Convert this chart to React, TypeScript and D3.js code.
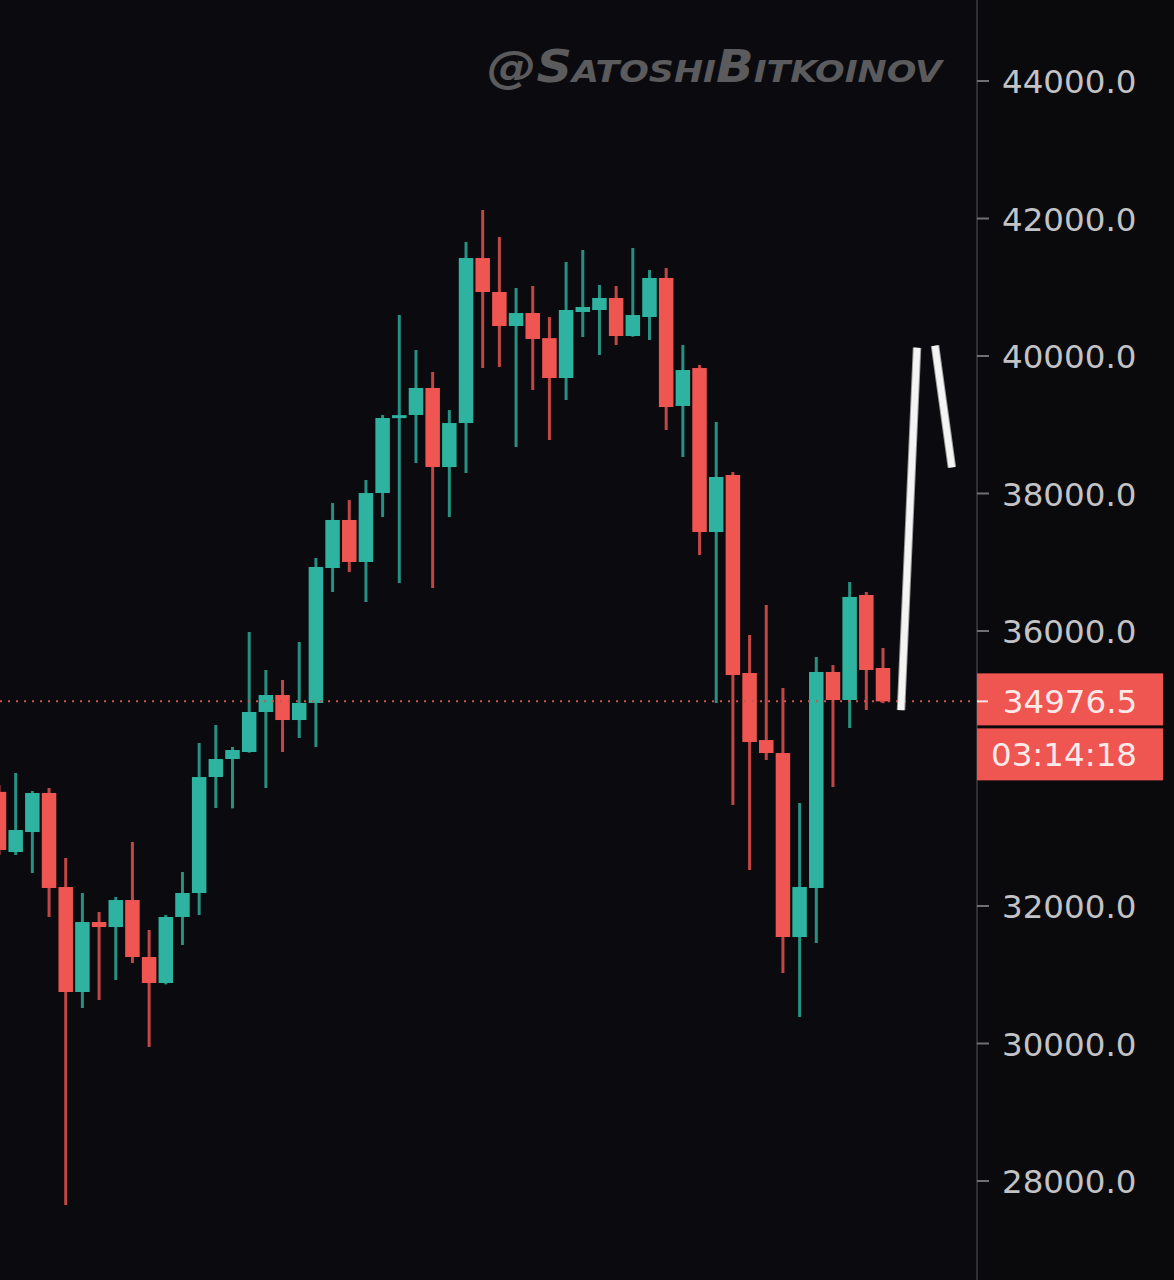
import React from "react";
import * as d3 from "d3";

const opens = [33660, 32785, 33076, 33644, 32276, 30749, 31767, 31694, 32087, 31258, 30880, 31840, 32189, 33876, 34138, 34240, 34822, 35069, 34705, 34953, 36916, 37615, 37004, 38007, 39098, 39142, 39535, 38385, 39025, 41425, 40931, 40436, 40625, 40260, 39680, 40640, 40669, 40844, 40291, 40567, 41135, 39273, 39825, 37440, 38269, 35389, 34414, 34225, 31549, 32262, 35404, 34996, 36524, 35462];
const highs = [33760, 33935, 33673, 33716, 32698, 32189, 31913, 32131, 32931, 31651, 31869, 32495, 34371, 34633, 34313, 35985, 35433, 35287, 35840, 37062, 37862, 37905, 38196, 39142, 40596, 40087, 39767, 39214, 41658, 42124, 41731, 40989, 41018, 40567, 41367, 41542, 41033, 41018, 41571, 41251, 41280, 40160, 39869, 39040, 38313, 35942, 36378, 35171, 33498, 35622, 35505, 36713, 36567, 35753];
const lows = [32742, 32742, 32480, 31840, 27651, 30516, 30633, 30924, 31171, 29949, 30860, 31433, 31869, 33425, 33420, 34230, 33716, 34240, 34444, 34313, 36567, 36858, 36422, 37658, 36698, 38444, 36625, 37658, 38298, 39825, 39840, 38676, 39505, 38778, 39360, 40276, 40015, 40160, 40280, 40233, 38924, 38531, 37105, 34953, 33469, 32524, 34124, 31025, 30385, 31462, 33731, 34589, 34851, 34950];
const closes = [32815, 33105, 33644, 32262, 30749, 31767, 31694, 32087, 31258, 30880, 31840, 32189, 33876, 34138, 34269, 34822, 35069, 34705, 34953, 36931, 37615, 37004, 38007, 39098, 39140, 39535, 38385, 39025, 41425, 40931, 40436, 40625, 40247, 39680, 40669, 40713, 40844, 40291, 40596, 41135, 39258, 39796, 37440, 38240, 35360, 34385, 34225, 31549, 32276, 35404, 34996, 36495, 35433, 34976.5];

const tickValues = [28000, 30000, 32000, 36000, 38000, 40000, 42000, 44000];
const lastPrice = 34976.5;
const countdown = "03:14:18";
const watermark = "@SatoshiBitkoinov";
const annotationA = [[54.08, 34850], [55.04, 40120]];
const annotationB = [[56.12, 40150], [57.13, 38380]];

const W = 1174;
const H = 1280;
const AXIS_X = 977;
const UP = "#2db39f";
const DOWN = "#ef5551";
const BG = "#0b0b0f";

export default function App() {
  const y = d3.scaleLinear().domain([28000, 44000]).range([1181, 81]);
  const x = d3.scaleLinear().domain([0, 53]).range([-1, 883]);
  const bodyW = 14.5;
  const line = d3.line<number[]>().x((d) => x(d[0])).y((d) => y(d[1]));
  const yP = y(lastPrice);

  return (
    <svg
      width={W}
      height={H}
      style={{ position: "absolute", left: 0, top: 0, display: "block" }}
      xmlns="http://www.w3.org/2000/svg"
    >
      <rect x={0} y={0} width={W} height={H} fill={BG} />
      {/* watermark */}
      <text
        x={487}
        y={82}
        fill="#5b5b5e"
        fontFamily="'DejaVu Sans', sans-serif"
        fontWeight="bold"
        fontStyle="italic"
        fontSize={44}
        style={{ fontVariant: "small-caps" }}
        textLength={455}
        lengthAdjust="spacingAndGlyphs"
      >
        {watermark}
      </text>

      {/* candles */}
      {opens.map((o, i) => {
        const c = closes[i];
        const up = c >= o;
        const col = up ? UP : DOWN;
        const cx = x(i);
        const top = y(Math.max(o, c));
        const bot = y(Math.min(o, c));
        return (
          <g key={i}>
            <line
              x1={cx}
              x2={cx}
              y1={y(highs[i])}
              y2={y(lows[i])}
              stroke={col}
              strokeWidth={3}
              strokeOpacity={0.8}
            />
            <rect
              x={cx - bodyW / 2}
              y={top}
              width={bodyW}
              height={Math.max(bot - top, 3)}
              fill={col}
            />
          </g>
        );
      })}

      {/* price line */}
      <line
        x1={0}
        x2={AXIS_X}
        y1={yP}
        y2={yP}
        stroke="#c9534f"
        strokeWidth={2}
        strokeDasharray="2,6"
      />

      {/* annotation strokes */}
      {[annotationA, annotationB].map((pts, i) => (
        <g key={i}>
          <path d={line(pts) || ""} stroke="#9a9a9a" strokeWidth={8.5} fill="none" />
          <path d={line(pts) || ""} stroke="#f4f4f4" strokeWidth={6.5} fill="none" />
        </g>
      ))}

      {/* axis */}
      <rect x={AXIS_X} y={0} width={W - AXIS_X} height={H} fill="#0a0a0d" />
      <line x1={AXIS_X} x2={AXIS_X} y1={0} y2={H} stroke="#2e2e33" strokeWidth={2} />
      {tickValues.map((t) => (
        <g key={t}>
          <line x1={AXIS_X} x2={AXIS_X + 12} y1={y(t)} y2={y(t)} stroke="#6f6f74" strokeWidth={2} />
          <text
            x={1002}
            y={y(t) + 12}
            fill="#c3c3c6"
            fontFamily="'DejaVu Sans', sans-serif"
            fontSize={32.5}
          >
            {d3.format(".1f")(t)}
          </text>
        </g>
      ))}

      {/* last price labels */}
      <rect x={AXIS_X} y={yP - 28} width={186} height={52} fill={DOWN} />
      <line x1={AXIS_X} x2={AXIS_X + 11} y1={yP} y2={yP} stroke="#fbe3e2" strokeWidth={2} />
      <text
        x={1070}
        y={yP + 12}
        textAnchor="middle"
        fill="#fde9e8"
        fontFamily="'DejaVu Sans', sans-serif"
        fontSize={32.5}
      >
        {d3.format(".1f")(lastPrice)}
      </text>
      <rect x={AXIS_X} y={yP + 27} width={186} height={52} fill={DOWN} />
      <text
        x={1064}
        y={yP + 65}
        textAnchor="middle"
        fill="#fde9e8"
        fontFamily="'DejaVu Sans', sans-serif"
        fontSize={32.5}
      >
        {countdown}
      </text>
    </svg>
  );
}
